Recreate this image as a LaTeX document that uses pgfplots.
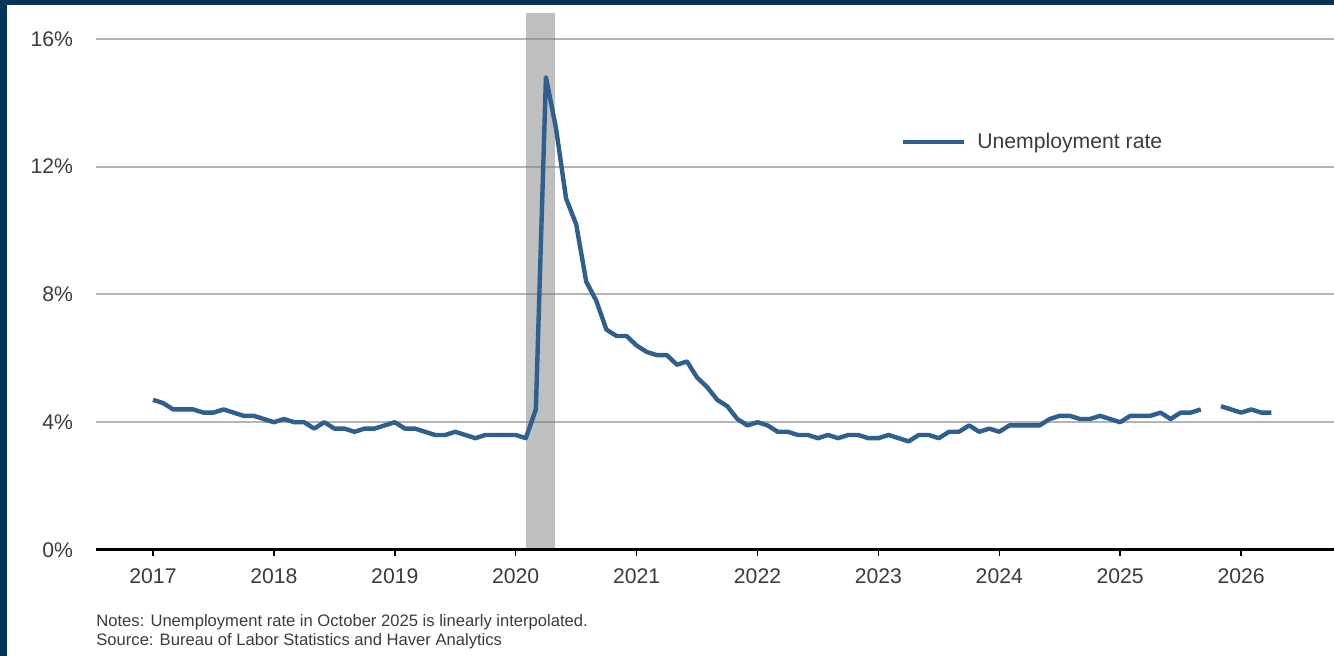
\documentclass[border=0pt]{standalone}
\usepackage{fontspec}
\setmainfont{Liberation Sans}
\usepackage{pgfplots}
\usepackage{pgfplotstable}
\pgfplotsset{compat=1.18}

\definecolor{framenavy}{RGB}{8,52,88}
\definecolor{urblue}{RGB}{46,95,142}
\definecolor{recgray}{RGB}{128,128,128}
\definecolor{gridgray}{RGB}{180,180,180}
\definecolor{txtgray}{RGB}{60,60,60}

% Civilian unemployment rate, monthly, percent (Oct 2025 not published)
\pgfplotstableread{
yr   mo  rate
2017 1   4.7
2017 2   4.6
2017 3   4.4
2017 4   4.4
2017 5   4.4
2017 6   4.3
2017 7   4.3
2017 8   4.4
2017 9   4.3
2017 10  4.2
2017 11  4.2
2017 12  4.1
2018 1   4.0
2018 2   4.1
2018 3   4.0
2018 4   4.0
2018 5   3.8
2018 6   4.0
2018 7   3.8
2018 8   3.8
2018 9   3.7
2018 10  3.8
2018 11  3.8
2018 12  3.9
2019 1   4.0
2019 2   3.8
2019 3   3.8
2019 4   3.7
2019 5   3.6
2019 6   3.6
2019 7   3.7
2019 8   3.6
2019 9   3.5
2019 10  3.6
2019 11  3.6
2019 12  3.6
2020 1   3.6
2020 2   3.5
2020 3   4.4
2020 4   14.8
2020 5   13.2
2020 6   11.0
2020 7   10.2
2020 8   8.4
2020 9   7.8
2020 10  6.9
2020 11  6.7
2020 12  6.7
2021 1   6.4
2021 2   6.2
2021 3   6.1
2021 4   6.1
2021 5   5.8
2021 6   5.9
2021 7   5.4
2021 8   5.1
2021 9   4.7
2021 10  4.5
2021 11  4.1
2021 12  3.9
2022 1   4.0
2022 2   3.9
2022 3   3.7
2022 4   3.7
2022 5   3.6
2022 6   3.6
2022 7   3.5
2022 8   3.6
2022 9   3.5
2022 10  3.6
2022 11  3.6
2022 12  3.5
2023 1   3.5
2023 2   3.6
2023 3   3.5
2023 4   3.4
2023 5   3.6
2023 6   3.6
2023 7   3.5
2023 8   3.7
2023 9   3.7
2023 10  3.9
2023 11  3.7
2023 12  3.8
2024 1   3.7
2024 2   3.9
2024 3   3.9
2024 4   3.9
2024 5   3.9
2024 6   4.1
2024 7   4.2
2024 8   4.2
2024 9   4.1
2024 10  4.1
2024 11  4.2
2024 12  4.1
2025 1   4.0
2025 2   4.2
2025 3   4.2
2025 4   4.2
2025 5   4.3
2025 6   4.1
2025 7   4.3
2025 8   4.3
2025 9   4.4
2025 10  nan
2025 11  4.5
2025 12  4.4
2026 1   4.3
2026 2   4.4
2026 3   4.3
2026 4   4.3
}\urate

% NBER recession, Feb--Apr 2020, in months since Jan 2017
\pgfplotstableread{
x      y
37.02  0.05
37.02  16.81
39.87  16.81
39.87  0.05
}\recession

\begin{document}
\begin{tikzpicture}
% canvas: 1 px = 0.5 pt
\fill[white] (0,0) rectangle (667pt,328pt);
\fill[framenavy] (0,0) rectangle (3.5pt,328pt);
\fill[framenavy] (0,325.6pt) rectangle (667pt,328pt);
\useasboundingbox (0,0) rectangle (667pt,328pt);

\begin{axis}[
  at={(48pt,53pt)}, anchor=south west,
  scale only axis,
  width=619pt, height=268.5pt,
  xmin=-5.658, xmax=117.22,
  ymin=0, ymax=16.81,
  axis x line*=bottom,
  axis y line*=left,
  y axis line style={draw=none},
  x axis line style={black, line width=1.5pt},
  xtick={0,12,...,108},
  xticklabels={2017,2018,2019,2020,2021,2022,2023,2024,2025,2026},
  xtick style={black, line width=0.75pt},
  ytick={0,4,8,12,16},
  ytick style={draw=none},
  tick align=outside,
  major tick length=3pt,
  ymajorgrids,
  grid style={gridgray, line width=1pt},
  yticklabel={\pgfmathprintnumber{\tick}\%},
  /pgf/number format/assume math mode=true,
  tick label style={font=\fontsize{10.6}{12}\selectfont, text=txtgray},
  yticklabel style={anchor=east, xshift=-5pt},
  xticklabel style={yshift=-3pt},
  unbounded coords=jump,
  legend image code/.code={\draw[#1] (0pt,0pt) -- (30.3pt,0pt);
    \path[draw=none] (36pt,0pt);},
  legend style={draw=none, fill=none, at={(0.650,0.7598)}, anchor=west,
    font=\fontsize{10.6}{12}\selectfont, text=txtgray,
    inner sep=0pt, nodes={inner sep=1pt}},
]
\addplot[fill=recgray, fill opacity=0.5, draw=none, forget plot]
  table[x=x, y=y] {\recession} -- cycle;
\addplot[urblue, line width=2.2pt, line join=round, line cap=butt]
  table[x expr={(\thisrow{yr}-2017)*12+\thisrow{mo}-1}, y=rate] {\urate};
\addlegendentry{Unemployment rate}
\end{axis}

\node[anchor=base west, font=\fontsize{8.3}{10}\selectfont, text=txtgray, inner sep=0pt]
  at (48pt,14.5pt) {Notes: Unemployment rate in October 2025 is linearly interpolated.};
\node[anchor=base west, font=\fontsize{8.3}{10}\selectfont, text=txtgray, inner sep=0pt]
  at (48pt,5pt) {Source: Bureau of Labor Statistics and Haver Analytics};
\end{tikzpicture}
\end{document}
